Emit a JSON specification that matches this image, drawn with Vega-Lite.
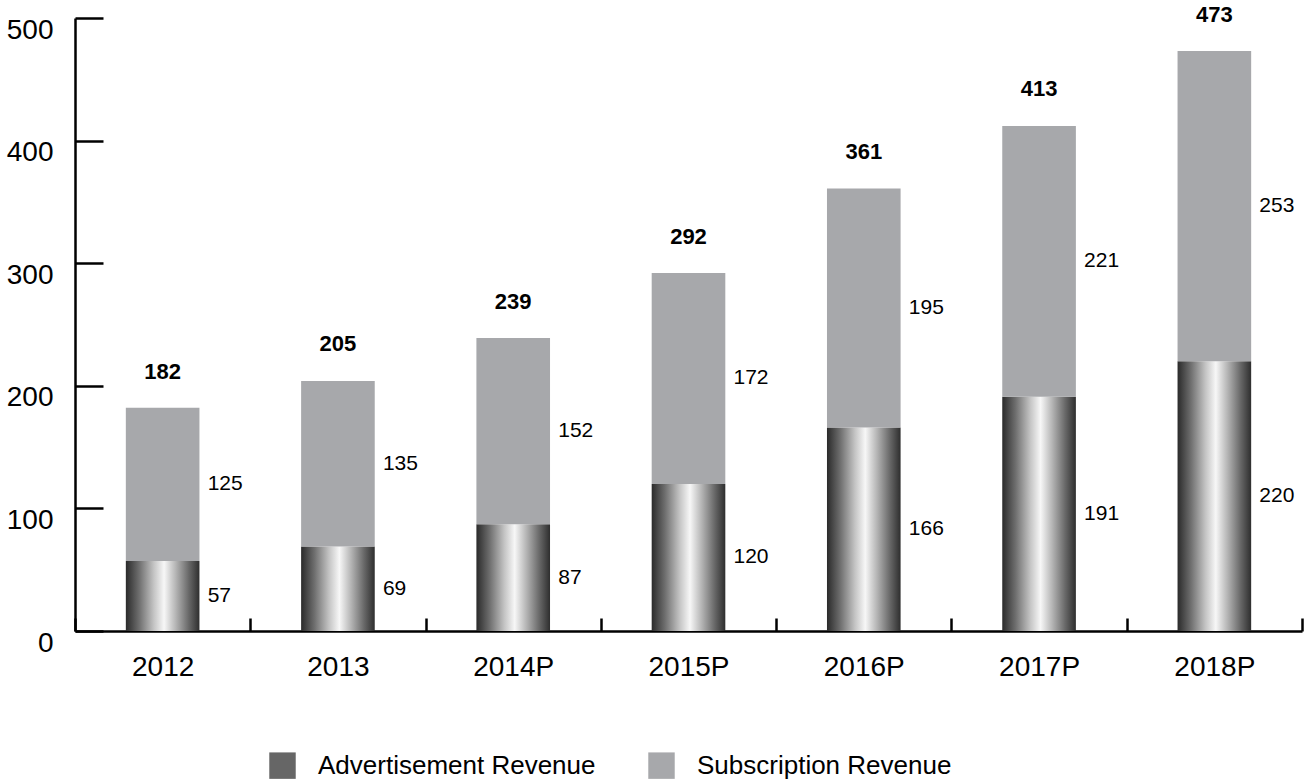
{
  "$schema": "https://vega.github.io/schema/vega-lite/v6.json",
  "width": 1227,
  "height": 613,
  "autosize": {"type": "none"},
  "padding": {"left": 75, "top": 18, "right": 11, "bottom": 149},
  "background": "white",
  "config": {
    "view": {"stroke": null},
    "font": "Liberation Sans",
    "axis": {"labelFont": "Liberation Sans", "labelColor": "#000", "grid": false}
  },
  "data": {
    "values": [
      {"year": "2012", "Advertisement Revenue": 57, "Subscription Revenue": 125, "total": 182},
      {"year": "2013", "Advertisement Revenue": 69, "Subscription Revenue": 135, "total": 205},
      {"year": "2014P", "Advertisement Revenue": 87, "Subscription Revenue": 152, "total": 239},
      {"year": "2015P", "Advertisement Revenue": 120, "Subscription Revenue": 172, "total": 292},
      {"year": "2016P", "Advertisement Revenue": 166, "Subscription Revenue": 195, "total": 361},
      {"year": "2017P", "Advertisement Revenue": 191, "Subscription Revenue": 221, "total": 413},
      {"year": "2018P", "Advertisement Revenue": 220, "Subscription Revenue": 253, "total": 473}
    ]
  },
  "encoding": {
    "x": {
      "field": "year",
      "type": "nominal",
      "sort": null,
      "scale": {"paddingInner": 0, "paddingOuter": 0},
      "axis": {
        "title": null,
        "labelAngle": 0,
        "labelFontSize": 28,
        "labelPadding": 35,
        "tickBand": "extent",
        "tickSize": -13,
        "tickWidth": 2.5,
        "tickColor": "#000",
        "domainColor": "#000",
        "domainWidth": 2.5
      }
    }
  },
  "layer": [
    {
      "transform": [
        {"fold": ["Advertisement Revenue", "Subscription Revenue"], "as": ["series", "value"]}
      ],
      "mark": {"type": "bar", "width": {"band": 0.42}},
      "encoding": {
        "y": {
          "field": "value",
          "type": "quantitative",
          "stack": "zero",
          "scale": {"domain": [0, 500], "nice": false},
          "axis": {
            "title": null,
            "values": [0, 100, 200, 300, 400, 500],
            "labelFontSize": 28,
            "labelPadding": 50,
            "labelOffset": 12,
            "labelBaseline": "middle",
            "tickSize": -28,
            "tickWidth": 2.5,
            "tickColor": "#000",
            "domainColor": "#000",
            "domainWidth": 2.5
          }
        },
        "color": {
          "condition": {
            "test": "datum.series == 'Advertisement Revenue'",
            "value": {
              "gradient": "linear",
              "x1": 0, "y1": 0, "x2": 1, "y2": 0,
              "stops": [
                {"offset": 0, "color": "#2a2a2a"},
                {"offset": 0.18, "color": "#6e6e6e"},
                {"offset": 0.38, "color": "#c4c4c4"},
                {"offset": 0.52, "color": "#f7f7f7"},
                {"offset": 0.68, "color": "#b4b4b4"},
                {"offset": 0.86, "color": "#666666"},
                {"offset": 1, "color": "#2e2e2e"}
              ]
            }
          },
          "field": "series",
          "type": "nominal",
          "scale": {
            "domain": ["Advertisement Revenue", "Subscription Revenue"],
            "range": ["#666666", "#a7a8ab"]
          },
          "legend": {
            "title": null,
            "orient": "none",
            "direction": "horizontal",
            "legendX": 194,
            "legendY": 734,
            "symbolType": "square",
            "symbolSize": 700,
            "symbolStrokeWidth": 0,
            "labelFontSize": 26,
            "labelFont": "Liberation Sans",
            "labelColor": "#000",
            "labelOffset": 22,
            "columnPadding": 52,
            "labelLimit": 400
          }
        },
        "order": {"field": "series", "sort": "ascending"}
      }
    },
    {
      "transform": [
        {"fold": ["Advertisement Revenue", "Subscription Revenue"], "as": ["series", "value"]},
        {"calculate": "datum.series == 'Advertisement Revenue' ? datum.value / 2 : datum['Advertisement Revenue'] + datum.value / 2", "as": "mid"}
      ],
      "mark": {"type": "text", "align": "left", "baseline": "middle", "dx": 45, "fontSize": 21, "color": "#000"},
      "encoding": {
        "y": {"field": "mid", "type": "quantitative"},
        "text": {"field": "value", "type": "quantitative"}
      }
    },
    {
      "mark": {"type": "text", "align": "center", "baseline": "middle", "dy": -36, "fontSize": 22, "fontWeight": "bold", "color": "#000"},
      "encoding": {
        "y": {"field": "total", "type": "quantitative"},
        "text": {"field": "total", "type": "quantitative"}
      }
    }
  ]
}
